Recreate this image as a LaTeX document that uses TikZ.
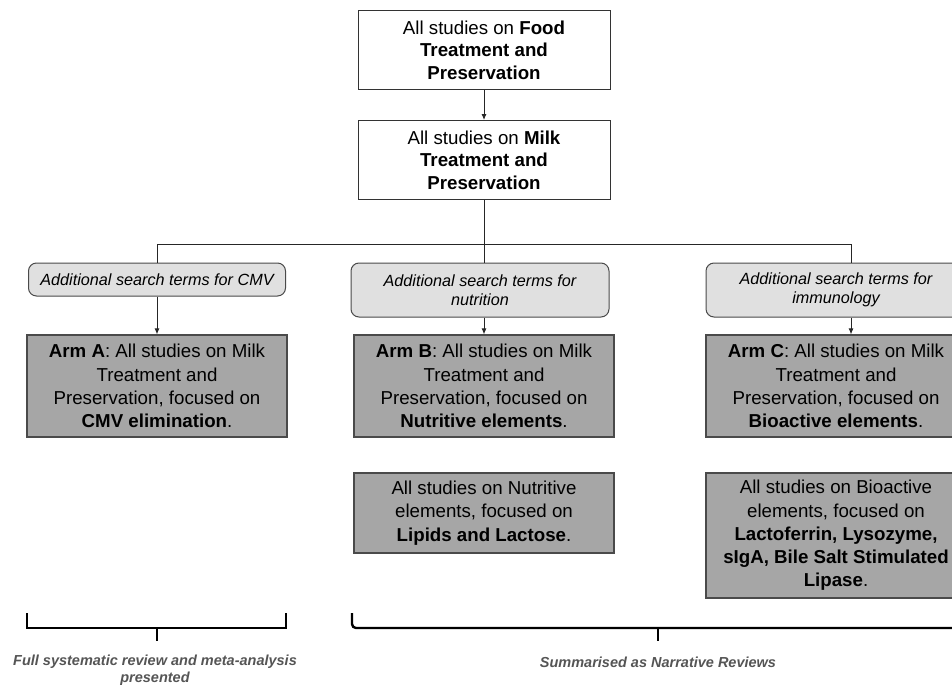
\documentclass[tikz,border=0pt]{standalone}
\usepackage{fontspec}
\setmainfont{Liberation Sans}
\usetikzlibrary{arrows.meta,positioning,calc}

\definecolor{armgray}{HTML}{A6A6A6}
\definecolor{termgray}{HTML}{E0E0E0}
\definecolor{edgegray}{HTML}{4A4A4A}
\definecolor{notegray}{HTML}{555555}

\begin{document}
\begin{tikzpicture}[x=1pt,y=-1pt,>={Latex[length=6pt,width=5pt]},
    topbox/.style={draw=black!80, line width=1pt, fill=white, minimum width=252pt, minimum height=79pt, align=center, inner sep=2pt, font=\fontsize{18.7}{22.5}\selectfont},
    termbox/.style={draw=edgegray, line width=1pt, fill=termgray, rounded corners=8pt, align=center, inner sep=2pt, font=\fontsize{16.2}{19.3}\selectfont\itshape},
    armbox/.style={draw=edgegray, line width=1.2pt, fill=armgray, minimum width=260pt, align=center, inner sep=2pt, font=\fontsize{18.7}{23.3}\selectfont},
    link/.style={draw=black!85, line width=0.9pt},
    bracket/.style={draw=black, line width=2.4pt},
    note/.style={align=center, text=notegray, inner sep=0pt, font=\fontsize{14.5}{16.5}\selectfont\bfseries\itshape}]
    \clip (0,0) rectangle (952,685);
    \fill[white] (0,0) rectangle (952,685);

    % Top boxes
    \node[topbox] (food) at (484,50) {All studies on \textbf{Food}\\ \textbf{Treatment and}\\ \textbf{Preservation}};
    \node[topbox] (milk) at (484,160) {All studies on \textbf{Milk}\\ \textbf{Treatment and}\\ \textbf{Preservation}};
    \draw[link,->] (food) -- (milk);

    % Search term boxes
    \node[termbox, minimum width=257pt, minimum height=33pt] (cmv) at (157,279.5) {Additional search terms for CMV};
    \node[termbox, minimum width=258pt, minimum height=54pt] (nutri) at (480,290) {Additional search terms for\\ nutrition};
    \node[termbox, minimum width=260pt, minimum height=54pt] (immuno) at (836,290) {Additional search terms for\\ immunology};

    % Splitting lines
    \coordinate (busL) at (157,244);
    \coordinate (busR) at (851,244);
    \draw[link] (busL) -- (busR);
    \draw[link] (milk.south) -- (milk.south |- busL);
    \draw[link] (busL) -- (busL |- cmv.north);
    \draw[link] (milk.south |- busL) -- (milk.south |- nutri.north);
    \draw[link] (busR) -- (busR |- immuno.north);

    % Arm boxes
    \node[armbox, minimum height=102pt] (armA) at (157,386) {\textbf{Arm A}: All studies on Milk\\ Treatment and\\ Preservation, focused on\\ \textbf{CMV elimination}.};
    \node[armbox, minimum height=102pt] (armB) at (484,386) {\textbf{Arm B}: All studies on Milk\\ Treatment and\\ Preservation, focused on\\ \textbf{Nutritive elements}.};
    \node[armbox, minimum height=102pt] (armC) at (836,386) {\textbf{Arm C}: All studies on Milk\\ Treatment and\\ Preservation, focused on\\ \textbf{Bioactive elements}.};
    \draw[link,->] (cmv) -- (armA);
    \draw[link,->] (milk.south |- nutri.south) -- (milk.south |- armB.north);
    \draw[link,->] (busR |- immuno.south) -- (busR |- armC.north);

    % Sub-topic boxes
    \node[armbox, minimum height=80pt] (lipid) at (484,513) {All studies on Nutritive\\ elements, focused on\\ \textbf{Lipids and Lactose}.};
    \node[armbox, minimum height=125pt] (bioact) at (836,535.5) {All studies on Bioactive\\ elements, focused on\\ \textbf{Lactoferrin, Lysozyme,}\\ \textbf{sIgA, Bile Salt Stimulated}\\ \textbf{Lipase}.};

    % Brackets and outcomes
    \draw[bracket] (27,613) -- (27,628) -- (286,628) -- (286,613);
    \draw[bracket] (157,628) -- (157,641);
    \draw[bracket, rounded corners=4pt] (352,613) -- (352,628) -- (964,628) -- (964,613);
    \draw[bracket] (658,628) -- (658,641);
    \node[note] (review) at (155,670) {Full systematic review and meta-analysis\\ presented};
    \node[note] (narrative) at (658,662) {Summarised as Narrative Reviews};
\end{tikzpicture}
\end{document}
